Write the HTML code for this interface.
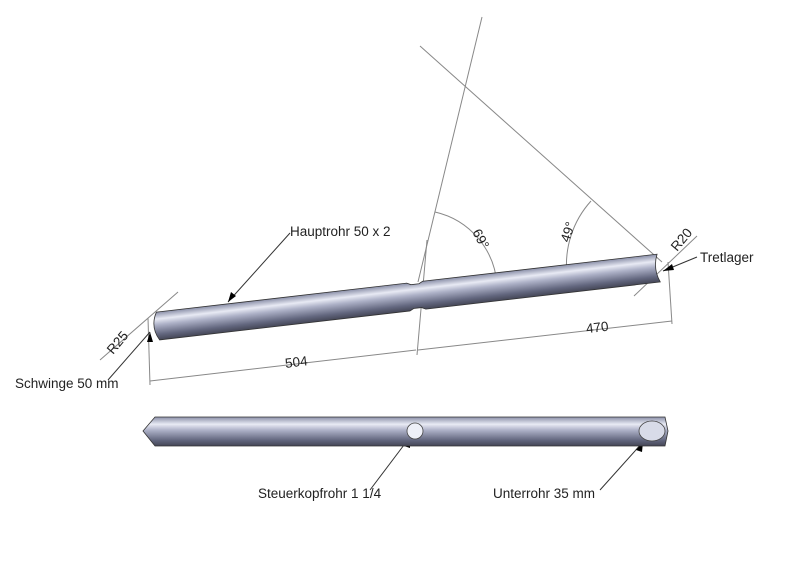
<!DOCTYPE html>
<html><head><meta charset="utf-8"><style>
html,body{margin:0;padding:0;background:#fff;}
svg{display:block;}
text{font-family:"Liberation Sans",sans-serif;font-size:13.5px;fill:#222;}
</style></head><body>
<svg width="800" height="566" viewBox="0 0 800 566" xmlns="http://www.w3.org/2000/svg">
<defs>
<linearGradient id="tg" x1="0" y1="0" x2="0" y2="1">
<stop offset="0" stop-color="#8a8fa8"/>
<stop offset="0.25" stop-color="#e8eaf4"/>
<stop offset="0.45" stop-color="#aeb2c8"/>
<stop offset="0.8" stop-color="#62667e"/>
<stop offset="1" stop-color="#444656"/>
</linearGradient>
</defs>
<g stroke="#888" stroke-width="1" fill="none">
<line x1="482" y1="17" x2="418" y2="282"/>
<line x1="427" y1="240" x2="417" y2="355"/>
<line x1="420" y1="46" x2="662" y2="262"/>
<line x1="148" y1="318" x2="150" y2="385"/>
<line x1="150" y1="381" x2="416" y2="350"/>
<line x1="418" y1="350" x2="672" y2="321"/>
<line x1="668" y1="262" x2="672" y2="324"/>
<path d="M435 212 A80 80 0 0 1 497 285"/>
<path d="M591 201 A95 95 0 0 0 567 275"/>
<line x1="100" y1="360" x2="178" y2="292"/>
<line x1="634" y1="296" x2="697" y2="236"/>
</g>
<g stroke="#333" stroke-width="1">
<line x1="290" y1="233" x2="228" y2="302"/>
<line x1="697" y1="257" x2="663" y2="271"/>
<line x1="108" y1="380" x2="150" y2="332"/>
<line x1="370" y1="490" x2="410" y2="437"/>
<line x1="600" y1="490" x2="643" y2="442"/>
</g>
<g fill="#000">
<polygon points="228,302 231,292 236,296"/>
<polygon points="663,271 672,264 674,270"/>
<polygon points="150,332 147,342 153,342"/>
<polygon points="410,437 404,446 410,448"/>
<polygon points="643,442 636,450 642,452"/>
</g>
<g transform="translate(158,326) rotate(-6.6)">
<path d="M0 -14 L252 -14 L256 -12 L264 -12 L268 -14 L504 -14 Q498 0 504 14 L268 14 L264 12 L256 12 L252 14 L0 14 Q-8 0 0 -14 Z" fill="url(#tg)" stroke="#333" stroke-width="0.8"/>
</g>
<polygon points="155,417 665,417 668,431 665,446 155,446 143,431" fill="url(#tg)" stroke="#333" stroke-width="0.8"/>
<ellipse cx="415" cy="431" rx="8" ry="8" fill="#eef0f8" stroke="#444" stroke-width="0.8"/>
<ellipse cx="652" cy="431" rx="13" ry="10" fill="#d8dbe8" stroke="#444" stroke-width="0.8"/>
<text x="290" y="236">Hauptrohr 50 x 2</text>
<text x="700" y="262">Tretlager</text>
<text x="15" y="388">Schwinge 50 mm</text>
<text x="258" y="498">Steuerkopfrohr 1 1/4</text>
<text x="493" y="498">Unterrohr 35 mm</text>
<text x="285" y="367" transform="rotate(-7 293 362)">504</text>
<text x="586" y="332" transform="rotate(-7 597 328)">470</text>
<text transform="translate(472,232) rotate(62)">69°</text>
<text transform="translate(569,243) rotate(-72)">49°</text>
<text transform="translate(113,355) rotate(-50)">R25</text>
<text transform="translate(677,252) rotate(-50)">R20</text>
</svg>
</body></html>
